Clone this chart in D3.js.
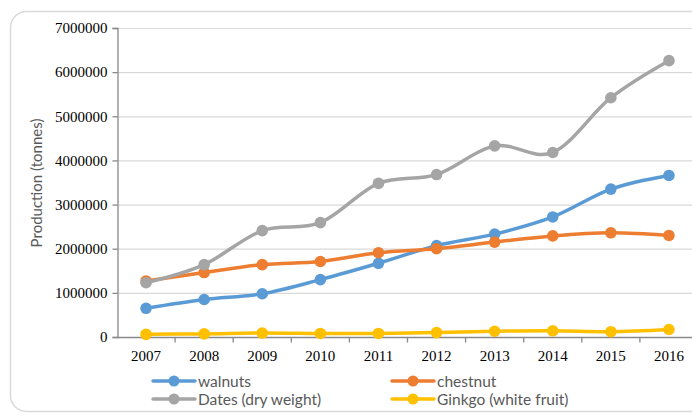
<!DOCTYPE html>
<html>
<head>
<meta charset="utf-8">
<script src="https://cdnjs.cloudflare.com/ajax/libs/d3/7.8.5/d3.min.js"></script>
<style>
  body { margin: 0; background: #fff; }
  svg { display: block; }
</style>
</head>
<body>
<svg id="chart" width="692" height="416"></svg>
<script>
// values (tonnes)
const years = ["2007", "2008", "2009", "2010", "2011", "2012", "2013", "2014", "2015", "2016"]
const walnuts = [650000, 850000, 980000, 1300000, 1670000, 2070000, 2330000, 2720000, 3350000, 3660000]
const chestnut = [1270000, 1460000, 1640000, 1710000, 1910000, 2000000, 2150000, 2290000, 2360000, 2300000]
const dates = [1230000, 1640000, 2410000, 2590000, 3480000, 3680000, 4330000, 4180000, 5420000, 6260000]
const ginkgo = [60000, 70000, 90000, 80000, 80000, 100000, 130000, 140000, 120000, 170000]
const yTicks = [0, 1000000, 2000000, 3000000, 4000000, 5000000, 6000000, 7000000]

const series = [
    { name: "walnuts", values: walnuts, color: "#5B9BD5" },
    { name: "chestnut", values: chestnut, color: "#ED7D31" },
    { name: "Dates (dry weight)", values: dates, color: "#A5A5A5" },
    { name: "Ginkgo (white fruit)", values: ginkgo, color: "#FFC000" }
]

const svg = d3.select("#chart")
const plotLeft = 117, plotRight = 698, plotTop = 28, plotBottom = 337

// outer frame
svg.append("rect")
    .attr("x", 10.5).attr("y", 11.5)
    .attr("width", 700).attr("height", 400)
    .attr("rx", 16)
    .attr("fill", "#fff")
    .attr("stroke", "#d9d9d9")
    .attr("stroke-width", 1.5)

const x = d3.scaleBand().domain(years).range([plotLeft, plotRight])
const y = d3.scaleLinear().domain([0, 7000000]).range([plotBottom, plotTop])

// gridlines
svg.append("g")
    .selectAll("line")
    .data(yTicks.slice(1))
    .join("line")
    .attr("x1", plotLeft).attr("x2", plotRight)
    .attr("y1", d => y(d) + 0.5).attr("y2", d => y(d) + 0.5)
    .attr("stroke", "#d9d9d9")
    .attr("stroke-width", 1.2)

// y axis
const yAxis = svg.append("g")
    .attr("transform", `translate(${plotLeft + 0.5},0)`)
    .call(d3.axisLeft(y).tickValues(yTicks).tickSize(5).tickPadding(5).tickFormat(d3.format("d")))
yAxis.select(".domain").attr("stroke", "#898989").attr("stroke-width", 1.3)
yAxis.selectAll(".tick line").attr("stroke", "#898989").attr("stroke-width", 1.3)
yAxis.selectAll(".tick text")
    .attr("font-family", "Liberation Serif, serif")
    .attr("font-size", 15)
    .attr("fill", "#000")

// x axis, ticks between categories
const xAxis = svg.append("g")
    .attr("transform", `translate(0,${plotBottom + 0.5})`)
xAxis.append("line")
    .attr("x1", plotLeft).attr("x2", plotRight)
    .attr("stroke", "#898989").attr("stroke-width", 1.3)
xAxis.selectAll("line.sep")
    .data(years.slice(1))
    .join("line")
    .attr("class", "sep")
    .attr("x1", d => x(d)).attr("x2", d => x(d))
    .attr("y1", 0).attr("y2", 5)
    .attr("stroke", "#898989").attr("stroke-width", 1.3)
xAxis.selectAll("text")
    .data(years)
    .join("text")
    .attr("x", d => x(d) + x.bandwidth() / 2)
    .attr("y", 23)
    .attr("text-anchor", "middle")
    .attr("font-family", "Liberation Serif, serif")
    .attr("font-size", 15)
    .attr("fill", "#000")
    .text(d => d)

// y axis title
svg.append("text")
    .attr("transform", `translate(42,183) rotate(-90)`)
    .attr("text-anchor", "middle")
    .attr("font-family", "Lato, sans-serif")
    .attr("font-size", 15)
    .attr("fill", "#595959")
    .text("Production (tonnes)")

// lines
const line = d3.line()
    .x((d, i) => x(years[i]) + x.bandwidth() / 2)
    .y(d => y(d))
    .curve(d3.curveCatmullRom.alpha(0))

const plot = svg.append("g")
series.forEach(s => {
    plot.append("path")
        .attr("d", line(s.values))
        .attr("fill", "none")
        .attr("stroke", s.color)
        .attr("stroke-width", 3.5)
        .attr("stroke-linecap", "round")
    plot.selectAll(null)
        .data(s.values)
        .join("circle")
        .attr("cx", (d, i) => x(years[i]) + x.bandwidth() / 2)
        .attr("cy", d => y(d))
        .attr("r", 5.8)
        .attr("fill", s.color)
})

// legend
const legendPos = [[153, 381], [392, 381], [153, 399], [392, 399]]
series.forEach((s, i) => {
    const g = svg.append("g").attr("transform", `translate(${legendPos[i][0]},${legendPos[i][1]})`)
    g.append("line")
        .attr("x1", 0).attr("x2", 42)
        .attr("stroke", s.color).attr("stroke-width", 3.5).attr("stroke-linecap", "round")
    g.append("circle").attr("cx", 21).attr("r", 5.5).attr("fill", s.color)
    g.append("text")
        .attr("x", 45).attr("y", 5.5)
        .attr("font-family", "Lato, sans-serif")
        .attr("font-size", 15.5)
        .attr("fill", "#595959")
        .text(s.name)
})
</script>
</body>
</html>
